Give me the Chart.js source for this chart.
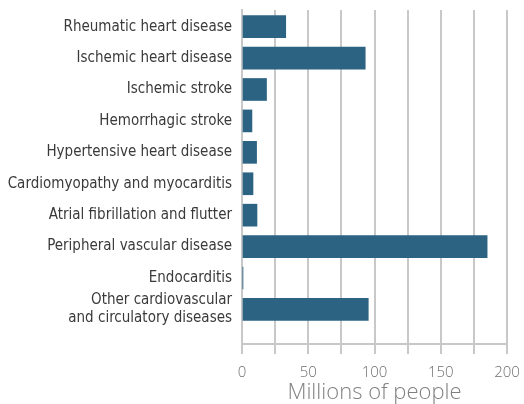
<!DOCTYPE html>
<html>
<head>
<meta charset="utf-8">
<script src="https://cdn.jsdelivr.net/npm/chart.js@4"></script>
<style>
html,body{margin:0;padding:0;background:#fff;}
#wrap{width:524px;height:404px;}
</style>
</head>
<body>
<div id="wrap"><canvas id="c" width="524" height="404"></canvas></div>
<script>
const categories = [
  "Rheumatic heart disease",
  "Ischemic heart disease",
  "Ischemic stroke",
  "Hemorrhagic stroke",
  "Hypertensive heart disease",
  "Cardiomyopathy and myocarditis",
  "Atrial fibrillation and flutter",
  "Peripheral vascular disease",
  "Endocarditis",
  ["Other cardiovascular", "and circulatory diseases"]
];
const values = [33, 93, 18.5, 7.5, 11, 8.3, 11.3, 185, 0.6, 95.3];
const xTicks = [0, 50, 100, 150, 200];
const xTitle = "Millions of people";

const points = values.map((v, i) => ({x: v, y: i}));
const grey = '#c8c8c8';

new Chart(document.getElementById('c'), {
  type: 'bar',
  data: {
    datasets: [{
      data: points,
      backgroundColor: '#2c6383',
      borderWidth: 0,
      barThickness: 22
    }]
  },
  options: {
    indexAxis: 'y',
    responsive: false,
    animation: false,
    devicePixelRatio: 1,
    layout: {padding: {top: 10, right: 17, bottom: 0, left: 0}},
    plugins: {legend: {display: false}, tooltip: {enabled: false}},
    scales: {
      y: {
        type: 'linear',
        reverse: true,
        offset: false,
        min: -0.53,
        max: 10.1,
        afterBuildTicks: s => { s.ticks = categories.map((_, i) => ({value: i})); },
        afterFit: s => { s.width = 242; s.paddingTop = 0; s.paddingBottom = 0; },
        ticks: {
          callback: v => categories[v],
          autoSkip: false,
          color: '#3a3a3a',
          padding: 10,
          font: {family: "'DejaVu Sans Condensed', sans-serif", size: 15}
        },
        grid: {display: false, drawTicks: false, offset: false},
        border: {display: true, color: grey, width: 2}
      },
      x: {
        type: 'linear',
        min: 0,
        max: 200,
        afterFit: s => { s.height = 60; s.paddingLeft = 0; s.paddingRight = 0; },
        ticks: {
          stepSize: 25,
          callback: v => xTicks.includes(v) ? String(v) : '',
          color: '#6e6e6e',
          padding: 10,
          maxRotation: 0,
          autoSkip: false,
          font: {family: "'Open Sans', Lato, sans-serif", size: 15, weight: '300'}
        },
        grid: {color: grey, lineWidth: 2, tickLength: 10, drawTicks: true},
        border: {display: true, color: grey, width: 2},
        title: {
          display: true,
          text: xTitle,
          color: '#808080',
          padding: {top: 0, bottom: 0},
          font: {family: "'Open Sans', Lato, sans-serif", size: 22, weight: '300', lineHeight: 1.0}
        }
      }
    }
  }
});
</script>
</body>
</html>
